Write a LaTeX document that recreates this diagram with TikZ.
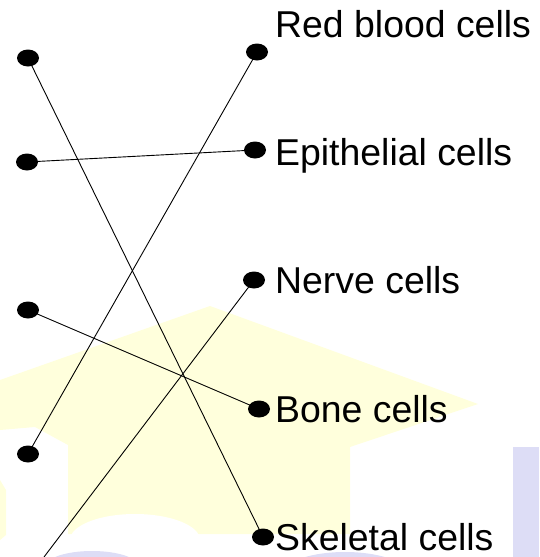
\documentclass[tikz,border=0pt]{standalone}
\usepackage{fontspec}
\setmainfont{Liberation Sans}
\usetikzlibrary{shapes.geometric}
\definecolor{capyellow}{HTML}{FFFFDC}
\definecolor{capblue}{HTML}{DDDDF6}
\begin{document}
\begin{tikzpicture}[x=1pt,y=-1pt,
  dot/.style={ellipse,fill=black,draw=none,minimum width=22pt,minimum height=17pt,inner sep=0pt},
  lbl/.style={anchor=base west,inner sep=0pt,font=\fontsize{37.4}{40}\selectfont},
  link/.style={line width=0.9pt,black}]
\useasboundingbox (0,0) rectangle (539,557);
\begin{scope}
\clip (0,0) rectangle (539,557);
% faint watermark (mortarboard)
\fill[capyellow] (0,380) -- (210,306) -- (478,404) -- (350,447) -- (350,534)
  -- (68,534) -- (68,445) -- (35,427) -- (0,430) -- cycle;
\fill[white] (135,540) ellipse (65 and 26);
\fill[capyellow] (0,480) -- (6,490) -- (6,535) -- (0,540) -- cycle;
\fill[capblue] (513,447) rectangle (539,557);
\fill[capblue] (92,566) ellipse (46 and 15);
\fill[capblue] (345,572) ellipse (60 and 20);
\end{scope}
% left dots
\node[dot] (l1) at (28,58) {};
\node[dot] (l2) at (27,162) {};
\node[dot] (l3) at (28,310) {};
\node[dot] (l4) at (28,454) {};
\coordinate (l5) at (44,557);
% right dots
\node[dot] (r1) at (257,52) {};
\node[dot] (r2) at (255,150) {};
\node[dot] (r3) at (254,280) {};
\node[dot] (r4) at (259,409) {};
\node[dot] (r5) at (263,537) {};
% labels
\node[lbl] (t1) at (275,37) {Red blood cells};
\node[lbl] (t2) at (275,165) {Epithelial cells};
\node[lbl] (t3) at (275,293) {Nerve cells};
\node[lbl] (t4) at (275,422) {Bone cells};
\node[lbl] (t5) at (275,550) {Skeletal cells};
% connectors
\draw[link] (l1.center) -- (r5.center);
\draw[link] (l2.center) -- (r2.center);
\draw[link] (l3.center) -- (r4.center);
\draw[link] (l4.center) -- (r1.center);
\draw[link] (l5) -- (r3.center);
\end{tikzpicture}
\end{document}
